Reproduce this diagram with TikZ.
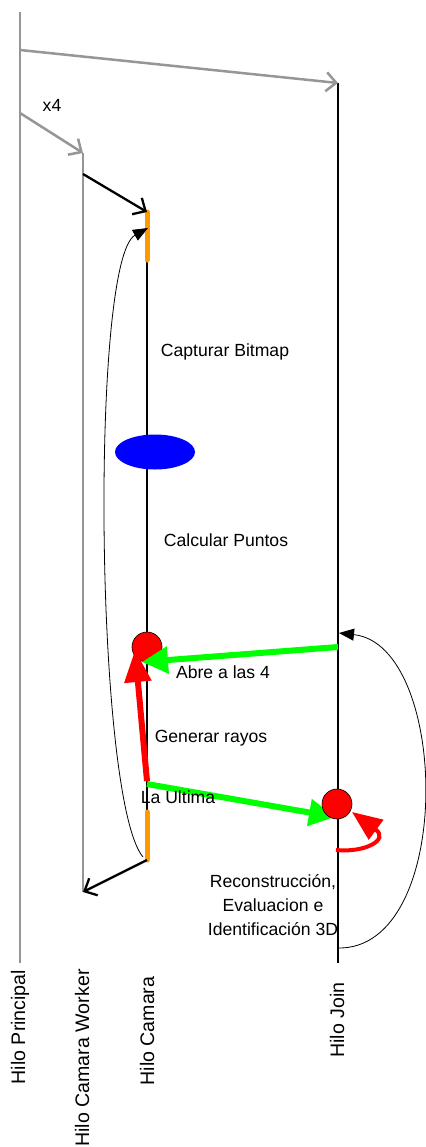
\documentclass[tikz,border=0pt]{standalone}
\usepackage{fontspec}
\setmainfont{Liberation Sans}
\usetikzlibrary{arrows.meta, positioning, shapes.geometric, calc}
\definecolor{hilogray}{RGB}{150, 150, 150}
\definecolor{segorange}{RGB}{255, 153, 0}
\definecolor{flechaverde}{RGB}{0, 255, 0}
\definecolor{rojo}{RGB}{255, 0, 0}
\definecolor{azul}{RGB}{0, 0, 255}

\begin{document}
\begin{tikzpicture}[x=1bp, y=-1bp,
  txt/.style={font=\fontsize{17.6bp}{24bp}\selectfont, inner sep=0pt, align=center},
  hilotxt/.style={font=\fontsize{19.6bp}{24bp}\selectfont, inner sep=0pt, rotate=90},
  grayline/.style={draw=hilogray, line width=2.5bp},
  grayarrow/.style={grayline, -{Straight Barb[length=10bp, width=19bp]}},
  blackline/.style={draw=black, line width=2.3bp},
  blackarrow/.style={blackline, -{Straight Barb[length=10bp, width=19bp]}},
  orangeseg/.style={draw=segorange, line width=5bp, line cap=round},
  thinarrow/.style={draw=black, line width=0.8bp, -{Triangle[length=15bp, width=12bp]}},
  greenarrow/.style={draw=flechaverde, line width=6bp, -{Triangle[length=26bp, width=26bp]}},
  redarrow/.style={draw=rojo, line width=6bp, -{Triangle[length=32bp, width=26bp]}},
  punto/.style={circle, fill=rojo, draw=black, line width=0.6bp, minimum size=30bp, inner sep=0pt}]

  \useasboundingbox (0,0) rectangle (425,1147);

  % lifelines
  \coordinate (prinTop) at (20,12);
  \coordinate (prinBot) at (20,963);
  \coordinate (prinJoin) at (20,50);
  \coordinate (prinWork) at (20,113);
  \coordinate (workTop) at (83,153);
  \coordinate (workCall) at (83,174);
  \coordinate (workBot) at (83,892);
  \coordinate (camTop) at (147,212);
  \coordinate (camA) at (147,260);
  \coordinate (camB) at (147,812);
  \coordinate (camBot) at (147,860);
  \coordinate (camGen) at (147,781);
  \coordinate (joinTop) at (338,83);
  \coordinate (joinAbre) at (338,647);
  \coordinate (joinBot) at (338,963);

  \draw[grayline] (prinTop) -- (prinBot);
  \draw[grayline] (workTop) -- (workBot);
  \draw[blackline] (joinTop) -- (joinBot);
  \draw[blackline] (camA) -- (camB);
  \draw[orangeseg] (camTop) -- (camA);
  \draw[orangeseg] (camB) -- (camBot);

  \draw[grayarrow] (prinJoin) -- (joinTop);
  \draw[grayarrow] (prinWork) -- (workTop);
  \node[txt] (veces) at (52,105) {x4};
  \draw[blackarrow] (workCall) -- (camTop);
  \draw[blackarrow] (camBot) -- (workBot);

  % loops
  \draw[thinarrow] (143,857) .. controls (95,800) and (90,260) .. (148,228);
  \draw[thinarrow] (338,948) .. controls (455,950) and (450,645) .. (339,633);

  \node[ellipse, fill=azul, minimum width=80bp, minimum height=35bp, inner sep=0pt] (bitmap) at (155,452) {};
  \node[txt] (capturar) at (225,352) {Capturar Bitmap};
  \node[txt] (calcular) at (226,540) {Calcular Puntos};

  \node[punto] (abre) at (147,647) {};
  \draw[greenarrow] (joinAbre) -- (142,662);
  \draw[redarrow] (camGen) -- (135,650);
  \draw[greenarrow] (147,784) -- (335,817);
  \node[punto] (recon) at (337,804) {};
  \draw[draw=rojo, line width=4bp, -{Triangle[length=30bp, width=24bp]}] (336,850) .. controls (364,853) and (390,840) .. (352,812);

  \node[txt] (abretxt) at (223,672) {Abre a las 4};
  \node[txt] (generar) at (211,738) {Generar rayos};
  \node[txt] (ultima) at (178,797) {La Ultima};
  \node[txt] (recontxt) at (273,905) {Reconstrucción,\\Evaluacion e\\Identificación 3D};

  \node[hilotxt] (hPrin) at (20,1027) {Hilo Principal};
  \node[hilotxt] (hWork) at (82,1058) {Hilo Camara Worker};
  \node[hilotxt] (hCam) at (147,1031) {Hilo Camara};
  \node[hilotxt] (hJoin) at (337,1020) {Hilo Join};

\end{tikzpicture}
\end{document}
